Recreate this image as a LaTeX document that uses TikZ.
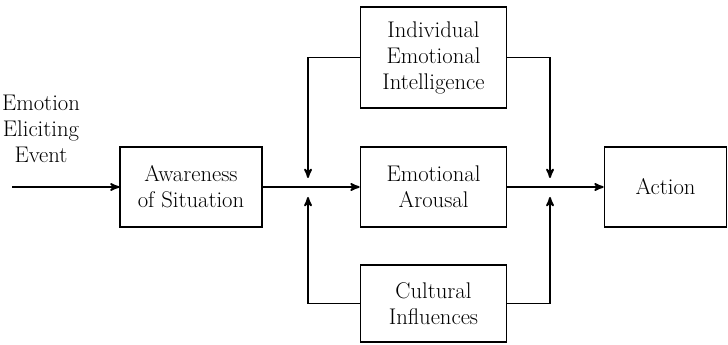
\documentclass[tikz,border=0pt]{standalone}
\usetikzlibrary{arrows, positioning}

\begin{document}
\begin{tikzpicture}[
    x=0.75pt, y=-0.75pt,
    block/.style={rectangle, draw, line width=0.8pt, minimum width=110pt, minimum height=60pt, text centered, align=center, font=\fontsize{17}{19.5}\selectfont, inner sep=0pt},
    label/.style={align=center, font=\fontsize{17}{19.5}\selectfont, inner sep=0pt},
    flow/.style={line width=1.4pt, -stealth'},
    feed/.style={line width=1.4pt, -stealth'}
]
\useasboundingbox (0,0) rectangle (728,345);

% Main chain
\node[label] (event) at (41,129) {Emotion\\Eliciting\\Event};
\node[block, minimum width=106.5pt] (aware) at (191,187) {Awareness\\of Situation};
\node[block] (arousal) at (433.5,187) {Emotional\\Arousal};
\node[block, minimum width=92pt] (action) at (665.5,187) {Action};

% Influences
\node[block, minimum height=75.75pt] (indiv) at (433.5,57.5) {Individual\\Emotional\\Intelligence};
\node[block, minimum height=57.75pt] (culture) at (433.5,303.5) {Cultural\\Influences};

% Junction points
\coordinate (start) at (12,187);
\coordinate (jl_top) at (308,178);
\coordinate (jl_bot) at (308,197);
\coordinate (jr_top) at (550,178);
\coordinate (jr_bot) at (550,197);

% Arrows along the chain
\draw[flow] (start) -- (aware);
\draw[flow] (aware) -- (arousal);
\draw[flow] (arousal) -- (action);

% Feed-in arrows
\draw[feed] (indiv.west) -| (jl_top);
\draw[feed] (indiv.east) -| (jr_top);
\draw[feed] (culture.west) -| (jl_bot);
\draw[feed] (culture.east) -| (jr_bot);

\end{tikzpicture}
\end{document}
